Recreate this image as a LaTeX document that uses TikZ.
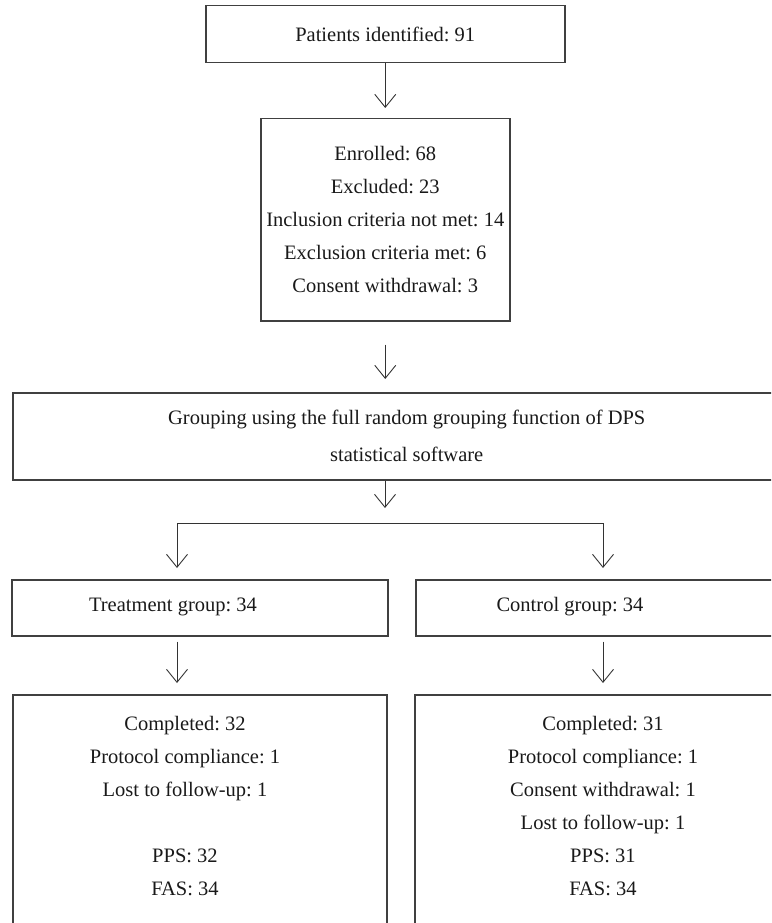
\documentclass[tikz,border=0pt]{standalone}
\usepackage{fontspec}
\setmainfont{Liberation Serif}
\frenchspacing
\usepackage{tikz}
\usetikzlibrary{positioning}
\usetikzlibrary{arrows.meta, calc}
\tikzstyle{arrow} = [line width=0.9pt, draw=black!80, -{Straight Barb[length=13pt, width=21pt]}]
\tikzstyle{box} = [draw=black!75, line width=1.5pt, rectangle, anchor=north west, inner sep=0pt]
\tikzstyle{txt} = [align=center, text=black!90, inner sep=0pt, font=\fontsize{20.5}{33}\selectfont]

\begin{document}
\begin{tikzpicture}[x=1pt, y=-1pt]
	\path[use as bounding box, clip] (0,0) rectangle (771,923);

	\node[box, txt, minimum width=359pt, minimum height=57pt] (patients) at (205,5) {Patients identified: 91};
	\node[box, txt, minimum width=249pt, minimum height=202pt] (enrolled) at (260,118) {Enrolled: 68\\Excluded: 23\\Inclusion criteria not met: 14\\Exclusion criteria met: 6\\Consent withdrawal: 3};
	\node[box, txt, minimum width=788pt, minimum height=87pt, font=\fontsize{20.5}{37}\selectfont] (grouping) at (12,392) {Grouping using the full random grouping function of DPS\\statistical software};

	\node[box, minimum width=376pt, minimum height=56pt] (treatment) at (11,579) {};
	\node[txt] (treatlbl) at (173,607) {Treatment group: 34};
	\node[box, minimum width=376pt, minimum height=56pt] (control) at (415,579) {};
	\node[txt] (ctrllbl) at (570,607) {Control group: 34};

	\node[box, minimum width=374pt, minimum height=260pt] (treatout) at (12,694) {};
	\node[txt, anchor=north] (treatres) at (185,716) {Completed: 32\\Protocol compliance: 1\\Lost to follow-up: 1\\[33pt]PPS: 32\\FAS: 34};
	\node[box, minimum width=380pt, minimum height=260pt] (ctrlout) at (414,694) {};
	\node[txt, anchor=north] (ctrlres) at (603,716) {Completed: 31\\Protocol compliance: 1\\Consent withdrawal: 1\\Lost to follow-up: 1\\PPS: 31\\FAS: 34};

	% branching
	\coordinate (fork) at (385,523);
	\coordinate (forkL) at (177,523);
	\coordinate (forkR) at (603,523);

	\draw[arrow, shorten >=10pt] (patients) -- (enrolled);
	\draw[arrow, shorten <=23pt, shorten >=13pt] (enrolled.south) -- (enrolled.south |- grouping.north);
	\draw[arrow, shorten >=15pt] (grouping.south -| fork) -- (fork);
	\draw[line width=0.9pt, draw=black!80] (forkL) -- (forkR);
	\draw[arrow, shorten >=11pt] (forkL) -- (forkL |- treatment.north);
	\draw[arrow, shorten >=11pt] (forkR) -- (forkR |- control.north);
	\draw[arrow, shorten <=5pt, shorten >=11pt] (forkL |- treatment.south) -- (forkL |- treatout.north);
	\draw[arrow, shorten <=5pt, shorten >=11pt] (forkR |- control.south) -- (forkR |- ctrlout.north);
\end{tikzpicture}
\end{document}
